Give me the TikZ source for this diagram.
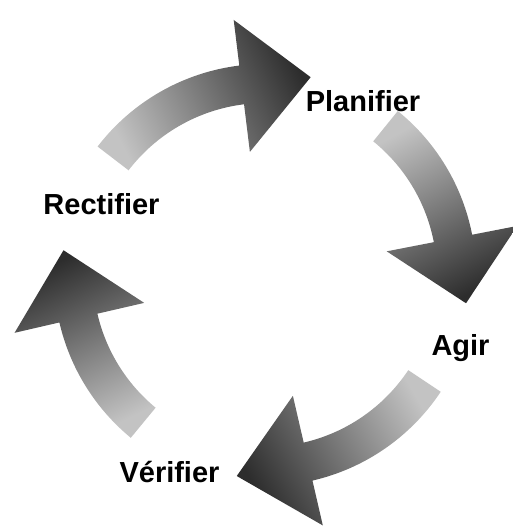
\documentclass[tikz,border=0pt]{standalone}
\usepackage{fontspec}
\setmainfont{Liberation Sans}
\definecolor{arrowlight}{RGB}{195,195,195}
\definecolor{arrowmid}{RGB}{160,160,160}
\definecolor{arrowdark}{RGB}{45,45,45}

\begin{document}
\begin{tikzpicture}[
      x=0.02cm, y=0.02cm,
      phase/.style={font=\fontsize{16.5}{19}\selectfont\bfseries, inner sep=0pt, anchor=base},
      cyclearrow/.style={shading=axis, bottom color=arrowlight, middle color=arrowmid,
                         top color=arrowdark, draw=none}
    ]
      \useasboundingbox (-265,-251) rectangle (247,275);
      % queue / base de la pointe / pointe / angle du degrade
      \foreach \tail/\base/\tip/\grad in {142.5/97/77/-64, 51/11/-8/-152, -33.6/-77/-98/120, 230.5/193/173/26}
        \path[cyclearrow, shading angle=\grad]
          (\tail:211) arc[start angle=\tail, end angle=\base, radius=211]
          -- (\base:257) -- (\tip:203) -- (\base:124) -- (\base:172)
          arc[start angle=\base, end angle=\tail, radius=172] -- cycle;
      \node[phase] (plan)  at (98,163)    {Planifier};
      \node[phase] (agir)  at (195.5,-81) {Agir};
      \node[phase] (verif) at (-95.5,-207) {Vérifier};
      \node[phase] (rect)  at (-163.5,60) {Rectifier};
    \end{tikzpicture}
\end{document}
